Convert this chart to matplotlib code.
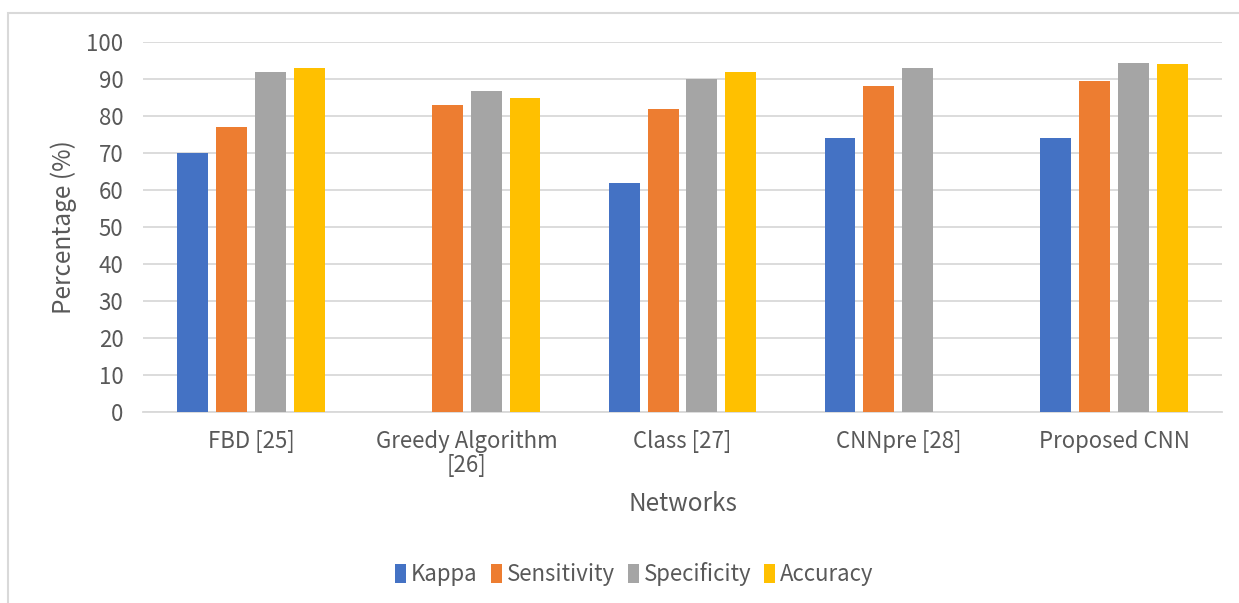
import numpy as np
import matplotlib
matplotlib.use("Agg")
import matplotlib.pyplot as plt
from matplotlib.patches import Rectangle

plt.rcParams['font.family'] = ['Noto Sans CJK SC', 'DejaVu Sans']

# Data
networks = ["FBD [25]", "Greedy Algorithm\n[26]", "Class [27]", "CNNpre [28]", "Proposed CNN"]
metrics = ["Kappa", "Sensitivity", "Specificity", "Accuracy"]
kappa = [70, np.nan, 62, 74, 74]
sensitivity = [77, 83, 82, 88, 89.6]
specificity = [92, 86.7, 90, 93, 94.3]
accuracy = [93, 85, 92, np.nan, 94]
colors = ["#4472C4", "#ED7D31", "#A5A5A5", "#FFC000"]

series = [kappa, sensitivity, specificity, accuracy]
text_col = "#595959"

fig = plt.figure(figsize=(12.39, 6.03), dpi=100)
ax = fig.add_axes([143 / 1239, 0.3167, 1079 / 1239, 0.6136])

x = np.arange(len(networks))
pitch = 0.18
width = 0.143
for i, (name, vals, c) in enumerate(zip(metrics, series, colors)):
    offs = (i - 1.5) * pitch
    ax.bar(x + offs, vals, width=width, color=c, label=name, zorder=3)

ax.set_xlim(-0.5, len(networks) - 0.5)
ax.set_ylim(0, 100)
ax.set_yticks(np.arange(0, 101, 10))
ax.set_xticks(x)
ax.set_xticklabels(networks, fontsize=16, color=text_col, linespacing=1.05)
ax.tick_params(axis='y', labelsize=16, labelcolor=text_col, length=0, pad=14)
ax.tick_params(axis='x', length=0, pad=13)
ax.grid(axis='y', color="#D9D9D9", linewidth=1.3, zorder=0)
for s in ["top", "right", "left"]:
    ax.spines[s].set_visible(False)
ax.spines["bottom"].set_color("#D9D9D9")
ax.spines["bottom"].set_linewidth(1.3)

ax.set_ylabel("Percentage (%)", fontsize=17.5, color=text_col, labelpad=7)
ax.set_xlabel("Networks", fontsize=17.5, color=text_col, labelpad=10)

leg = fig.legend(loc="center", bbox_to_anchor=(0.512, 0.048), ncol=4, frameon=False,
                 fontsize=16, handlelength=0.5, handleheight=0.95,
                 handletextpad=0.2, columnspacing=0.6)
for t in leg.get_texts():
    t.set_color(text_col)

# outer chart border
fig.patches.append(Rectangle((8 / 1239, -0.1), 1.2, 1 - 13 / 603 + 0.1,
                             transform=fig.transFigure, fill=False,
                             edgecolor="#D9D9D9", linewidth=1.5))

fig.savefig("out.png", dpi=100)
